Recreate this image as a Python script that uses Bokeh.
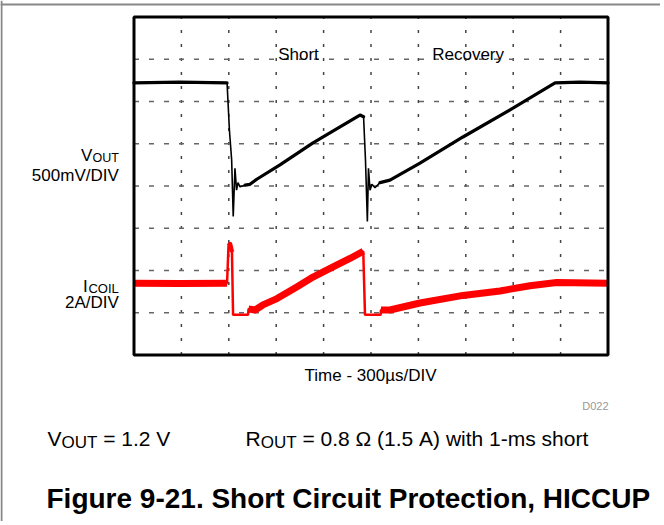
from bokeh.plotting import figure
from bokeh.models import Range1d, Label, Span
from bokeh.embed import file_html
from bokeh.resources import INLINE

# ---- data ----
# time in microseconds (300 us / div), VOUT in volts, ICOIL in amperes
vout_t = [0, 291, 589, 604, 618, 628, 639, 649, 658, 671, 703, 734, 777, 924, 1133, 1304,
          1430, 1453, 1465, 1477, 1484, 1494, 1506, 1525, 1557, 1620, 1810, 2082, 2380,
          2665, 2823, 3000]
vout_v = [1.20, 1.21, 1.20, 0.64, 0.29, -0.38, 0.19, -0.07, 0.02, -0.03, -0.01, 0.00, 0.06,
          0.23, 0.49, 0.68, 0.82, 0.80, 0.29, -0.44, 0.19, -0.07, 0.00, -0.04, 0.02, 0.05,
          0.25, 0.56, 0.88, 1.20, 1.21, 1.20]
icoil_t = [0, 291, 589, 598, 608, 620, 627, 722, 725, 766, 816, 905, 1030, 1133, 1241, 1367,
           1451, 1462, 1561, 1563, 1620, 1810, 2082, 2316, 2506, 2675, 3000]
icoil_a = [1.50, 1.48, 1.50, 3.26, 3.35, 2.98, 0.00, 0.00, 0.28, 0.23, 0.47, 0.77, 1.32, 1.79,
           2.20, 2.67, 3.01, 0.00, 0.00, 0.23, 0.23, 0.56, 0.92, 1.13, 1.38, 1.53, 1.50]
# index ranges of the noisy (thick) parts of each trace
vout_noisy = [(0, 3), (10, 18), (24, 32)]
icoil_noisy = [(0, 3), (8, 17), (19, 27)]
icoil_spike = [(3, 6)]

div_time = 300          # us per division
n_xdiv = 10
n_ydiv = 8
v_per_div, v_bottom = 0.5, -2.02
a_per_div, a_bottom = 2.0, -1.9
time_ticks = [div_time * k for k in range(1, n_xdiv)]
div_ticks = list(range(1, n_ydiv))
t_end = div_time * n_xdiv

# ---- layout: whole canvas is the plot frame; scope box placed inside ----
W, H = 660, 521
X0, X1 = 133.5, 607.5       # page x of the scope box edges
Y0, Y1 = 354.5, 16.5        # page y of the scope box bottom / top
px_t = (X1 - X0) / t_end
px_div = (Y0 - Y1) / n_ydiv
TEXT_DY = -6                # baseline correction for labels


def tx(px):
    return (px - X0) / px_t


def dy(py):
    return (Y0 - py) / px_div


FONT = "Liberation Sans"

p = figure(width=W, height=H, output_backend="svg", toolbar_location=None,
           x_axis_type=None, y_axis_type=None,
           x_range=Range1d(tx(0), tx(W)), y_range=Range1d(dy(H), dy(0)),
           min_border_left=0, min_border_right=0, min_border_top=0, min_border_bottom=0)
p.title.visible = False
p.extra_y_ranges = {
    "v": Range1d(v_bottom + dy(H) * v_per_div, v_bottom + dy(0) * v_per_div),
    "i": Range1d(a_bottom + dy(H) * a_per_div, a_bottom + dy(0) * a_per_div),
}
p.background_fill_color = "white"
p.border_fill_color = "white"
p.outline_line_color = None
p.xgrid.visible = False
p.ygrid.visible = False

# page frame lines (top and left)
p.add_layout(Span(location=dy(4), dimension="width", line_color="#888888", line_width=2))
p.add_layout(Span(location=tx(1), dimension="height", line_color="#888888", line_width=2))

# scope graticule
p.segment(x0=time_ticks, y0=[0] * len(time_ticks), x1=time_ticks, y1=[n_ydiv] * len(time_ticks),
          line_color="#444444", line_width=1.5, line_dash="3 11")
p.segment(x0=[0] * len(div_ticks), y0=div_ticks, x1=[t_end] * len(div_ticks), y1=div_ticks,
          line_color="#666666", line_width=1.5, line_dash="5 10")

# traces
p.line(vout_t, vout_v, y_range_name="v", line_color="black", line_width=1.6)
p.multi_line([vout_t[a:b] for a, b in vout_noisy], [vout_v[a:b] for a, b in vout_noisy],
             y_range_name="v", line_color="black", line_width=3.2, line_join="round", line_cap="round")
p.line(icoil_t, icoil_a, y_range_name="i", line_color="#ff0000", line_width=2.5)
p.multi_line([icoil_t[a:b] for a, b in icoil_spike], [icoil_a[a:b] for a, b in icoil_spike],
             y_range_name="i", line_color="#ff0000", line_width=4.5, line_join="round")
p.multi_line([icoil_t[a:b] for a, b in icoil_noisy], [icoil_a[a:b] for a, b in icoil_noisy],
             y_range_name="i", line_color="#ff0000", line_width=7, line_join="round")

# scope box
p.quad(left=0, right=t_end, bottom=0, top=n_ydiv, fill_color=None,
       line_color="black", line_width=3)


def lab(px, py, text, size, align="left", color="black", style="normal"):
    p.add_layout(Label(x=tx(px), y=dy(py + TEXT_DY), text=text, text_font=FONT,
                       text_font_size=size, text_align=align, text_baseline="alphabetic",
                       text_color=color, text_font_style=style))


# labels inside the scope area
lab(277.7, 60, "Short", "17px")
lab(431.7, 60, "Recovery", "17px")
# channel labels
lab(91.9, 161, "V", "17px", "right")
lab(118.3, 163.5, "OUT", "12.5px", "right")
lab(118.3, 180.7, "500mV/DIV", "17px", "right")
lab(87.3, 291.7, "I", "17px", "right")
lab(118.3, 293.5, "COIL", "13px", "right")
lab(118.3, 308.3, "2A/DIV", "17px", "right")
# axis caption and id
lab(370, 380.7, "Time - 300µs/DIV", "17px", "center")
lab(608, 411.3, "D022", "11px", "right", color="#999999")
# conditions line
lab(47, 444.3, "V", "21px")
lab(61, 448.3, "OUT", "17px")
lab(102.7, 444.3, "= 1.2 V", "21px")
lab(245, 444.3, "R", "21px")
lab(260.2, 448.3, "OUT", "17px")
lab(301.9, 444.3, "= 0.8 Ω (1.5 A) with 1-ms short", "21px")
# caption
lab(46, 503.7, "Figure 9-21. Short Circuit Protection, HICCUP", "28px", style="bold")

open("out.html", "w").write(file_html(p, INLINE))
